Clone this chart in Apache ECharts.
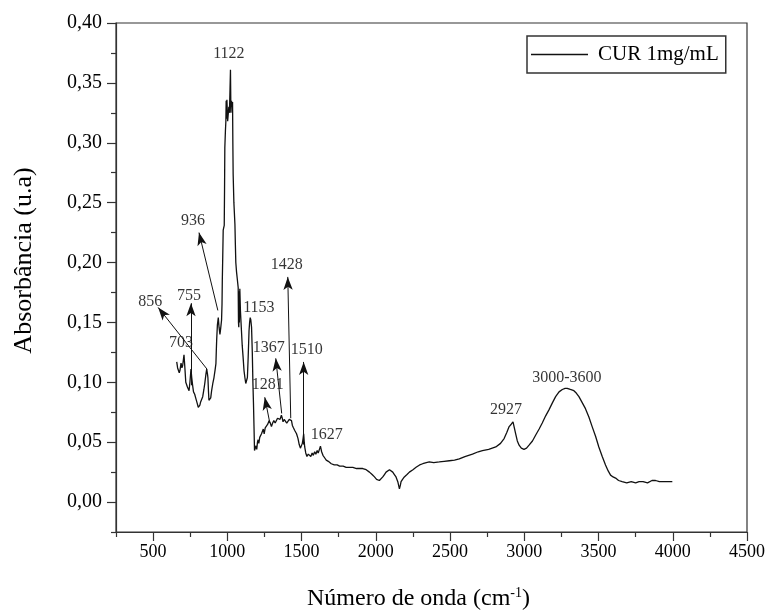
<!DOCTYPE html>
<html>
<head>
<meta charset="utf-8">
<script src="https://cdn.jsdelivr.net/npm/echarts@6/dist/echarts.min.js"></script>
<style>html,body{margin:0;padding:0;background:#fff}#c{width:771px;height:612px}</style>
</head>
<body>
<div id="c"></div>
<script>
// ---- data ----
const wavenumber = [659,665,670,676,681,688,694,699,708,714,720,731,742,748,755,760,766,772,780,789,798,804,809,815,820,827,834,842,849,856,861,866,869,873,876,883,888,894,902,910,917,923,926,928,933,939,944,950,955,961,964,966,969,972,979,981,983,987,990,992,995,997,999,1002,1006,1010,1014,1018,1021,1024,1028,1032,1035,1037,1039,1044,1051,1054,1057,1062,1068,1073,1075,1077,1079,1081,1084,1088,1095,1100,1106,1112,1118,1124,1129,1135,1140,1146,1150,1154,1158,1163,1168,1172,1176,1180,1183,1188,1193,1198,1203,1207,1212,1218,1224,1230,1236,1242,1248,1255,1264,1272,1281,1289,1297,1305,1313,1322,1331,1338,1346,1355,1364,1370,1375,1383,1391,1400,1409,1417,1425,1432,1438,1445,1453,1460,1466,1476,1484,1492,1498,1505,1510,1514,1518,1521,1528,1536,1545,1554,1562,1571,1579,1588,1596,1605,1612,1620,1627,1635,1644,1655,1666,1680,1689,1700,1720,1740,1756,1780,1800,1823,1845,1870,1890,1912,1935,1957,1975,1991,2005,2015,2024,2035,2047,2058,2069,2080,2092,2103,2114,2125,2136,2148,2159,2165,2170,2180,2192,2210,2226,2250,2271,2295,2316,2340,2360,2390,2427,2460,2495,2530,2562,2600,2651,2690,2718,2760,2808,2840,2864,2882,2898,2912,2924,2933,2942,2953,2965,2980,2998,3015,3032,3055,3077,3100,3121,3144,3166,3190,3211,3234,3256,3275,3289,3310,3334,3350,3368,3390,3412,3435,3457,3480,3502,3525,3547,3565,3581,3598,3615,3635,3659,3690,3720,3750,3773,3800,3830,3860,3884,3910,3940,3970,3997];
const absorbance = [0.117,0.112,0.113,0.108,0.110,0.116,0.112,0.114,0.123,0.112,0.100,0.096,0.093,0.100,0.111,0.104,0.0975,0.092,0.090,0.086,0.082,0.079,0.078,0.081,0.0836,0.084,0.088,0.094,0.100,0.107,0.111,0.107,0.104,0.092,0.085,0.0836,0.087,0.093,0.099,0.104,0.110,0.1156,0.128,0.135,0.148,0.154,0.146,0.140,0.145,0.152,0.165,0.185,0.205,0.227,0.231,0.26,0.296,0.310,0.318,0.335,0.320,0.336,0.336,0.318,0.317,0.330,0.325,0.345,0.361,0.325,0.335,0.330,0.334,0.300,0.274,0.250,0.232,0.215,0.200,0.192,0.185,0.179,0.150,0.146,0.176,0.150,0.178,0.160,0.143,0.131,0.121,0.110,0.104,0.099,0.098,0.104,0.120,0.143,0.150,0.154,0.152,0.146,0.125,0.100,0.082,0.060,0.043,0.045,0.047,0.044,0.050,0.052,0.049,0.054,0.053,0.057,0.058,0.061,0.057,0.062,0.063,0.065,0.068,0.066,0.063,0.066,0.068,0.066,0.067,0.070,0.071,0.069,0.0725,0.070,0.067,0.069,0.0697,0.066,0.067,0.069,0.070,0.068,0.064,0.062,0.060,0.061,0.057,0.053,0.048,0.045,0.046,0.049,0.053,0.057,0.050,0.046,0.041,0.038,0.040,0.039,0.038,0.041,0.039,0.042,0.040,0.043,0.041,0.044,0.0467,0.042,0.039,0.037,0.035,0.034,0.0336,0.032,0.031,0.031,0.030,0.030,0.029,0.029,0.029,0.028,0.028,0.028,0.027,0.025,0.023,0.021,0.019,0.020,0.018,0.019,0.021,0.023,0.025,0.026,0.027,0.026,0.025,0.023,0.021,0.017,0.011,0.014,0.017,0.019,0.021,0.023,0.025,0.027,0.029,0.031,0.032,0.033,0.0336,0.033,0.0335,0.034,0.0345,0.035,0.036,0.038,0.040,0.042,0.043,0.044,0.046,0.049,0.053,0.058,0.063,0.065,0.067,0.062,0.057,0.051,0.0475,0.045,0.044,0.045,0.0475,0.051,0.056,0.061,0.066,0.072,0.077,0.083,0.088,0.092,0.094,0.095,0.095,0.094,0.093,0.091,0.088,0.083,0.078,0.071,0.063,0.055,0.046,0.038,0.031,0.026,0.0225,0.021,0.020,0.018,0.017,0.016,0.017,0.016,0.017,0.017,0.016,0.018,0.018,0.017,0.017,0.017,0.017];
const seriesName = 'CUR 1mg/mL';
const xMajorTicks = [500,1000,1500,2000,2500,3000,3500,4000,4500];
const xMinorTicks = [250,750,1250,1750,2250,2750,3250,3750,4250];
const yMajorTicks = [0,0.05,0.10,0.15,0.20,0.25,0.30,0.35,0.40];
const yMinorTicks = [-0.025,0.025,0.075,0.125,0.175,0.225,0.275,0.325,0.375];
// peak annotations (label text and centre position, in data units)
const annoText = ['1122','936','856','755','703','1153','1428','1367','1510','1281','1627','2927','3000-3600'];
const annoX = [1010,769,480,742,688,1212,1400,1279,1534,1272,1669,2877,3287];
const annoY = [0.374,0.235,0.1675,0.172,0.133,0.1625,0.198,0.129,0.1275,0.098,0.056,0.077,0.104];
// arrows: start and end points, in data units
const arrowFromX = [936,863,755,1427,1366,1514,1286];
const arrowFromY = [0.160,0.111,0.0975,0.070,0.074,0.048,0.066];
const arrowToX = [809,534,755,1407,1326,1514,1252];
const arrowToY = [0.225,0.1625,0.166,0.188,0.120,0.117,0.0875];

// ---- chart ----
const FONT = '"Liberation Serif", "Times New Roman", serif';
const AX = '#333';
const chart = echarts.init(document.getElementById('c'), null, {renderer: 'canvas'});
const lineData = wavenumber.map((w, i) => [w, absorbance[i]]);
const annoData = annoX.map((x, i) => [x, annoY[i], annoText[i]]);
const arrowData = arrowFromX.map((x, i) => [
  {coord: [x, arrowFromY[i]]},
  {coord: [arrowToX[i], arrowToY[i]]}
]);
const fmtY = v => v.toFixed(2).replace('.', ',');

chart.setOption({
  animation: false,
  backgroundColor: '#fff',
  grid: {left: 116, right: 24, top: 23, bottom: 80, containLabel: false, outerBoundsMode: 'none',
    show: true, borderColor: AX, borderWidth: 1.2, backgroundColor: 'transparent'},
  legend: {
    data: [{name: seriesName, icon: 'rect'}], left: 527, top: 36, padding: [8, 7, 8, 4],
    borderColor: AX, borderWidth: 1.5, itemWidth: 57, itemHeight: 1.3, itemGap: 10,
    textStyle: {fontFamily: FONT, fontSize: 21, color: '#000', padding: [0, 0, 0, 5]}
  },
  xAxis: [{
    type: 'value', min: 250, max: 4500, position: 'bottom',
    name: 'Número de onda (cm{sup|-1})', nameLocation: 'middle', nameGap: 54,
    nameTextStyle: {fontFamily: FONT, fontSize: 24, color: '#000', padding: [0, 26, 0, 0],
      rich: {sup: {fontFamily: FONT, fontSize: 14, color: '#000', padding: [0, 0, 12, 0]}}},
    axisLine: {show: true, onZero: false, lineStyle: {color: AX, width: 1.2}},
    axisTick: {show: true, length: 9, customValues: xMajorTicks, lineStyle: {color: AX, width: 1.2}},
    axisLabel: {customValues: xMajorTicks, formatter: v => String(v), margin: 11, fontFamily: FONT, fontSize: 18, color: '#000'},
    splitLine: {show: false}
  }, {
    type: 'value', min: 250, max: 4500, position: 'bottom', gridIndex: 0,
    axisLine: {show: false, onZero: false},
    axisTick: {show: true, length: 5, customValues: xMinorTicks, lineStyle: {color: AX, width: 1.2}},
    axisLabel: {show: false}, splitLine: {show: false}
  }],
  yAxis: [{
    type: 'value', min: -0.025, max: 0.40, position: 'left',
    name: 'Absorbância (u.a)', nameLocation: 'middle', nameGap: 79,
    nameTextStyle: {fontFamily: FONT, fontSize: 26, color: '#000', padding: [0, 0, 0, 34]},
    axisLine: {show: true, onZero: false, lineStyle: {color: AX, width: 1.2}},
    axisTick: {show: true, length: 9, customValues: yMajorTicks, lineStyle: {color: AX, width: 1.2}},
    axisLabel: {customValues: yMajorTicks, formatter: fmtY, margin: 14, fontFamily: FONT, fontSize: 20, color: '#000'},
    splitLine: {show: false}
  }, {
    type: 'value', min: -0.025, max: 0.40, position: 'left',
    axisLine: {show: false, onZero: false},
    axisTick: {show: true, length: 5, customValues: yMinorTicks, lineStyle: {color: AX, width: 1.2}},
    axisLabel: {show: false}, splitLine: {show: false}
  }],
  series: [{
    name: seriesName, type: 'line', data: lineData, symbol: 'none',
    lineStyle: {color: '#111', width: 1.3}, itemStyle: {color: '#111'}, z: 3
  }, {
    name: 'annotations', type: 'scatter', data: annoData, symbolSize: 0,
    silent: true, z: 4, itemStyle: {color: '#111'},
    label: {show: true, position: 'inside', formatter: p => p.value[2],
      fontFamily: FONT, fontSize: 16, color: '#000'},
    markLine: {
      silent: true, symbol: ['none', 'arrow'], symbolSize: [7, 13], precision: 4,
      lineStyle: {color: '#111', width: 1, type: 'solid'},
      label: {show: false}, emphasis: {disabled: true},
      data: arrowData
    }
  }]
});
</script>
</body>
</html>
